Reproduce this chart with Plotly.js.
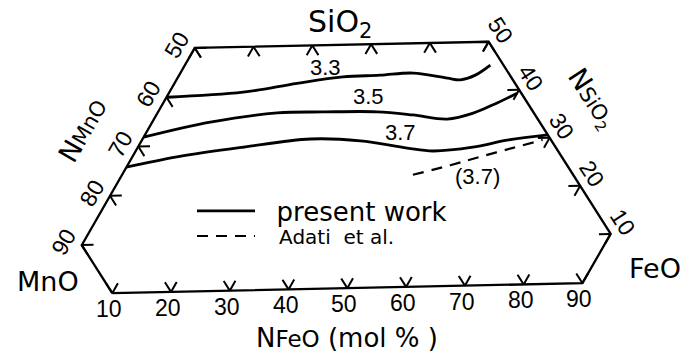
<!DOCTYPE html>
<html><head><meta charset="utf-8">
<script src="https://cdn.plot.ly/plotly-3.0.1.min.js"></script>
<style>html,body{margin:0;padding:0;background:#fff}#chart{width:696px;height:353px}</style>
</head><body><div id="chart"></div>
<script>
// ---- data (compositions in mol %) ----
const hexFeO  = [10, 90, 90, 50, 0, 0, 10];
const hexSiO2 = [0, 0, 10, 50, 50, 10, 0];
const feoTicksBottom = [10, 20, 30, 40, 50, 60, 70, 80, 90];
const feoTicksTop    = [0, 10, 20, 30, 40, 50];
const mnoTicksLeft   = [90, 80, 70, 60, 50];
const sio2TicksRight = [50, 40, 30, 20, 10];

const c33FeO  = [0, 12.7, 21.1, 28.4, 34.6, 40.1, 46.5, 48.9, 51.0, 52.6];
const c33SiO2 = [40.0, 40.7, 42.3, 43.4, 43.6, 43.9, 42.7, 42.3, 43.2, 45.2];
const c35FeO  = [0, 10.0, 20.6, 28.4, 37.7, 44.2, 50.5, 54.4, 57.5, 60.0];
const c35SiO2 = [31.9, 34.7, 36.3, 36.3, 36.1, 35.3, 34.3, 35.4, 37.4, 39.3];
const c37FeO  = [0, 7.7, 18.1, 28.9, 37.7, 46.5, 51.2, 57.7, 62.9, 69.4];
const c37SiO2 = [25.8, 27.7, 29.4, 30.8, 30.2, 28.5, 27.8, 28.4, 29.7, 30.6];
const adatiFeO  = [50.1, 55.6, 59.9, 64.7, 69.0];
const adatiSiO2 = [23.0, 24.8, 26.4, 28.1, 29.6];

const levelText  = ['3.3', '3.5', '3.7', '(3.7)'];
const levelFeO   = [24.4, 34.7, 43.7, 61.4];
const levelSiO2  = [45.5, 39.2, 31.8, 22.3];

// ---- ternary projection (MnO left, FeO right, SiO2 top), slight scan tilt ----
const TILT = 1.27 * Math.PI / 180;
function proj(F, S) {
  const X = F + S / 2, Y = S * Math.sqrt(3) / 2;
  return [X * Math.cos(TILT) - Y * Math.sin(TILT), X * Math.sin(TILT) + Y * Math.cos(TILT)];
}
function projArr(Fs, Ss) {
  const xs = [], ys = [];
  Fs.forEach((f, i) => { const p = proj(f, Ss[i]); xs.push(p[0]); ys.push(p[1]); });
  return {x: xs, y: ys};
}

// ---- tick chevrons ----
const L = 2;
const tx = [], ty = [];
function stub(F, S, dF, dS) {
  const a = proj(F, S), b = proj(F + dF, S + dS);
  tx.push(a[0], b[0], null); ty.push(a[1], b[1], null);
}
feoTicksBottom.forEach(f => { stub(f, 0, 0, L); stub(f, 0, -L, L); });
feoTicksTop.forEach(f => { stub(f, 50, 0, -L); stub(f, 50, L, -L); });
mnoTicksLeft.forEach(m => { stub(0, 100 - m, L, 0); stub(0, 100 - m, L, -L); });
sio2TicksRight.forEach(s => { stub(100 - s, s, -L, 0); stub(100 - s, s, 0, -L); });

const hex = projArr(hexFeO, hexSiO2);
const traces = [
  {x: hex.x, y: hex.y, mode: 'lines', line: {color: '#000', width: 2.3}, showlegend: false, hoverinfo: 'skip'},
  {x: tx, y: ty, mode: 'lines', line: {color: '#000', width: 2}, showlegend: false, hoverinfo: 'skip'}
];
const curves = [[c33FeO, c33SiO2], [c35FeO, c35SiO2], [c37FeO, c37SiO2]];
curves.forEach((c, i) => {
  const p = projArr(c[0], c[1]);
  traces.push({x: p.x, y: p.y, mode: 'lines', name: '\u00a0\u00a0present work',
    line: {color: '#000', width: 2.8, shape: 'spline', smoothing: 1},
    showlegend: i === 0, legend: 'legend', legendgroup: 'pw', hoverinfo: 'skip'});
});
const ad = projArr(adatiFeO, adatiSiO2);
traces.push({x: ad.x, y: ad.y, mode: 'lines', name: '\u00a0\u00a0\u00a0Adati\u00a0\u00a0et\u00a0al.',
  line: {color: '#000', width: 2.2, dash: '11px,8px', shape: 'spline', smoothing: 1},
  showlegend: true, legend: 'legend2', hoverinfo: 'skip'});

// ---- annotations ----
const NUMF = 'Liberation Sans, Arial, sans-serif';
const TF = 'DejaVu Sans, sans-serif';
const ann = [];
feoTicksBottom.forEach(f => { const p = proj(f, 0);
  ann.push({x: p[0], y: p[1], text: String(f), showarrow: false, xshift: -3, yshift: -16,
    font: {family: NUMF, size: 23, color: '#000'}, xanchor: 'center', yanchor: 'middle'}); });
mnoTicksLeft.forEach(m => { const p = proj(0, 100 - m);
  ann.push({x: p[0], y: p[1], text: String(m), showarrow: false, xshift: -18, yshift: 3, textangle: -60,
    font: {family: NUMF, size: 23, color: '#000'}, xanchor: 'center', yanchor: 'middle'}); });
sio2TicksRight.forEach(s => { const p = proj(100 - s, s);
  ann.push({x: p[0], y: p[1], text: String(s), showarrow: false, xshift: 12, yshift: 12, textangle: 57,
    font: {family: NUMF, size: 23, color: '#000'}, xanchor: 'center', yanchor: 'middle'}); });
levelText.forEach((t, i) => { const p = proj(levelFeO[i], levelSiO2[i]);
  ann.push({x: p[0], y: p[1], text: t, showarrow: false,
    font: {family: NUMF, size: 22, color: '#000'}, xanchor: 'center', yanchor: 'middle'}); });

function ptxt(text, px, py, size, angle) {
  ann.push({xref: 'paper', yref: 'paper', x: px / 696, y: 1 - py / 353, text: text, showarrow: false,
    textangle: angle || 0, font: {family: TF, size: size, color: '#000'}, xanchor: 'center', yanchor: 'middle'});
}
ptxt('SiO<sub>2</sub>', 340, 24, 30);
ptxt('N<span style="font-size:21px">MnO</span>', 82, 130, 27, -60);
ptxt('N<span style="font-size:21px">SiO<sub>2</sub></span>', 592, 98, 27, 57);
ptxt('MnO', 48, 281, 27);
ptxt('FeO', 655, 268, 27);
ptxt('N<span style="font-size:23px">FeO</span> (mol % )', 347, 338, 26);

const layout = {
  width: 696, height: 353, margin: {l: 0, r: 0, t: 0, b: 0},
  paper_bgcolor: '#fff', plot_bgcolor: '#fff',
  xaxis: {range: [-9.1, 109.3], visible: false, fixedrange: true},
  yaxis: {range: [-10.43, 52.38], visible: false, fixedrange: true},
  annotations: ann,
  legend: {x: 192 / 696, y: 1 - 211 / 353, xanchor: 'left', yanchor: 'middle', bgcolor: 'rgba(0,0,0,0)',
    borderwidth: 0, itemwidth: 58, font: {family: TF, size: 26, color: '#000'}},
  legend2: {x: 192 / 696, y: 1 - 236 / 353, xanchor: 'left', yanchor: 'middle', bgcolor: 'rgba(0,0,0,0)',
    borderwidth: 0, itemwidth: 58, font: {family: TF, size: 20, color: '#000'}},
  showlegend: true
};
Plotly.newPlot('chart', traces, layout, {displayModeBar: false, staticPlot: true});
</script></body></html>
